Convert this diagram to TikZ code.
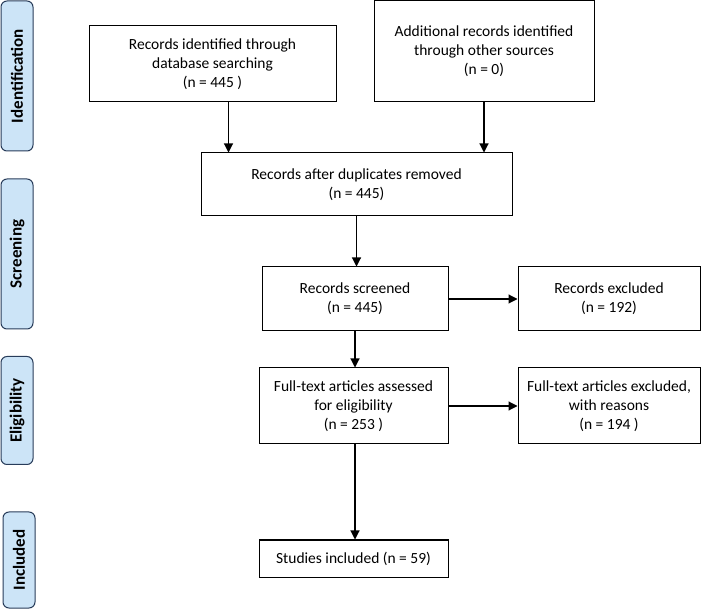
\documentclass[tikz,border=0pt]{standalone}
\usepackage{fontspec}
\setmainfont{Carlito}
\usetikzlibrary{arrows.meta,positioning,calc}
\definecolor{phasecolor}{RGB}{204,228,247}
\definecolor{phaseline}{RGB}{40,60,90}

\begin{document}
\begin{tikzpicture}[
    x=1pt, y=-1pt,
    box/.style={rectangle, draw, line width=1pt, align=center, font=\fontsize{15.5}{19}\selectfont, inner sep=2pt},
    phase/.style={rectangle, draw=phaseline, fill=phasecolor, rounded corners=6pt, line width=1pt, font=\bfseries\fontsize{17}{19}\selectfont, rotate=90},
    arrow/.style={-{Triangle[length=9pt,width=9pt]}, line width=1.1pt}
]
    \useasboundingbox (0,0) rectangle (710,609);

    % Phases
    \node[phase, minimum width=150, minimum height=32] (pid) at (17,76) {Identification};
    \node[phase, minimum width=150, minimum height=32] (pscr) at (17,254) {Screening};
    \node[phase, minimum width=108, minimum height=32] (pelig) at (17,410.5) {Eligibility};
    \node[phase, minimum width=96, minimum height=32] (pincl) at (19,560) {Included};

    % Boxes
    \node[box, minimum width=247, minimum height=76] (ident) at (212.5,64) {Records identified through\\database searching\\(n = 445 )};
    \node[box, minimum width=220, minimum height=101] (addl) at (484,51.5) {Additional records identified\\through other sources\\(n = 0)};
    \node[box, minimum width=311, minimum height=63] (dupl) at (356.5,184.5) {Records after duplicates removed\\(n = 445)};
    \node[box, minimum width=186, minimum height=64] (scr) at (355,299) {Records screened\\(n = 445)};
    \node[box, minimum width=182, minimum height=64] (excl) at (609,299) {Records excluded\\(n = 192)};
    \node[box, minimum width=189, minimum height=76] (full) at (353.5,406) {Full-text articles assessed\\for eligibility\\(n = 253 )};
    \node[box, minimum width=182, minimum height=76] (fexcl) at (609,406) {Full-text articles excluded,\\with reasons\\(n = 194 )};
    \node[box, minimum width=189, minimum height=37] (incl) at (353.5,558.5) {Studies included (n = 59)};

    % Arrows
    \draw[arrow] ([xshift=16]ident.south) -- ([xshift=16]ident.south |- dupl.north);
    \draw[arrow] (addl.south) -- (addl.south |- dupl.north);
    \draw[arrow] (dupl.south) -- (dupl.south |- scr.north);
    \draw[arrow] (scr.east) -- (excl.west);
    \draw[arrow] (scr.south) -- (scr.south |- full.north);
    \draw[arrow] (full.east) -- (fexcl.west);
    \draw[arrow] ([xshift=1.5]full.south) -- ([xshift=1.5]full.south |- incl.north);
\end{tikzpicture}
\end{document}
